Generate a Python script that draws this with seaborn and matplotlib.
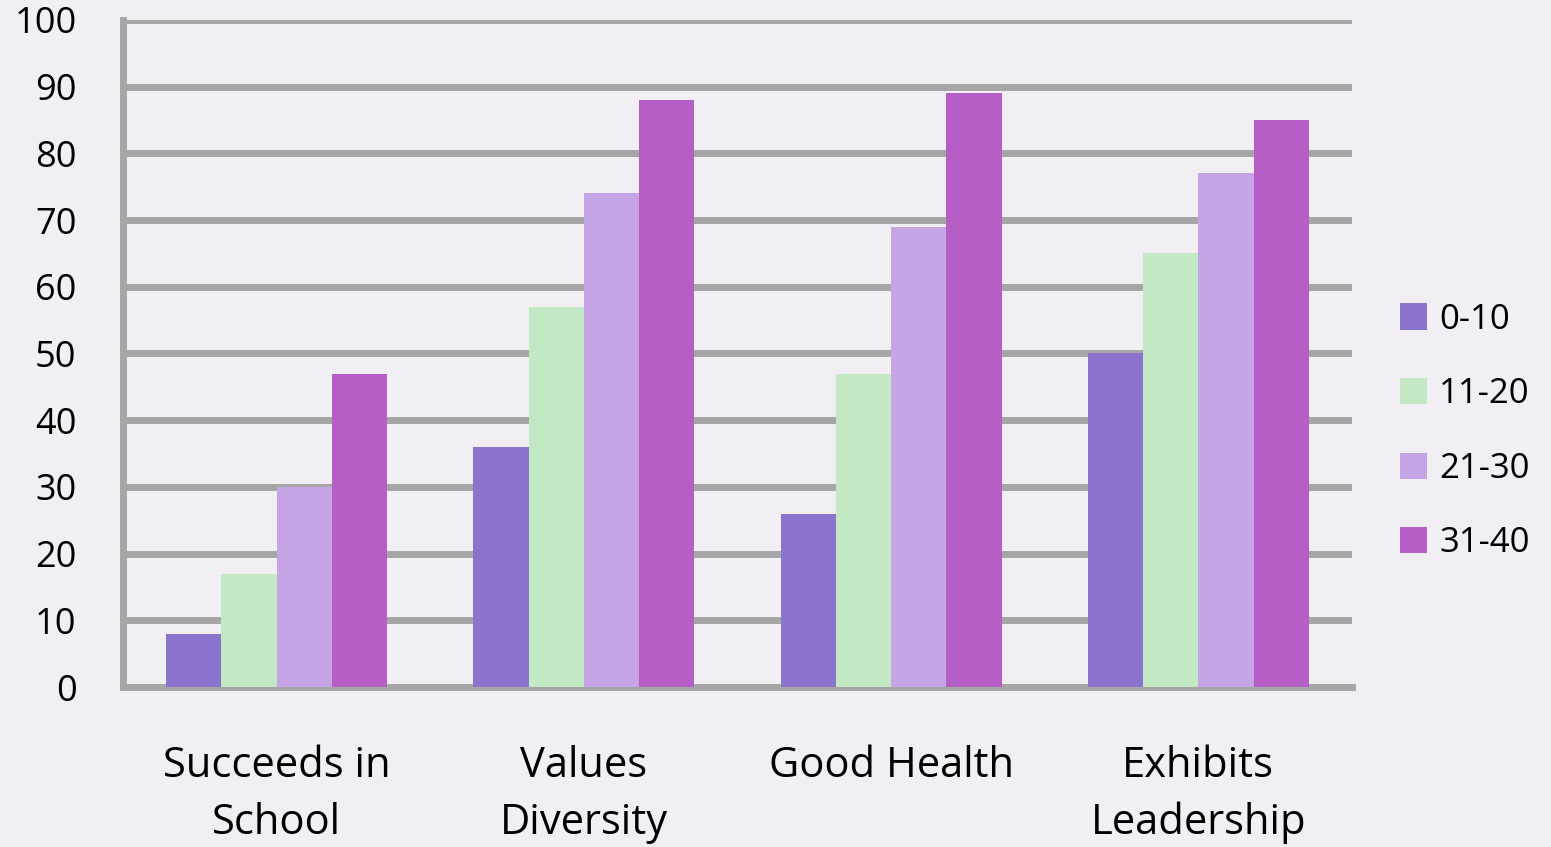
import matplotlib
matplotlib.use("Agg")
import matplotlib.pyplot as plt
import seaborn as sns
import pandas as pd

categories = ["Succeeds in\nSchool", "Values\nDiversity", "Good Health", "Exhibits\nLeadership"]
groups = ["0-10", "11-20", "21-30", "31-40"]
vals_0_10 = [8, 36, 26, 50]
vals_11_20 = [17, 57, 47, 65]
vals_21_30 = [30, 74, 69, 77]
vals_31_40 = [47, 88, 89, 85]
y_ticks = [0, 10, 20, 30, 40, 50, 60, 70, 80, 90, 100]

palette = ["#8b74cd", "#c3e9c4", "#c5a5e6", "#b45ec6"]
bg = "#f1eff4"
grid_c = "#a6a6a6"

rows = []
for g, vals in zip(groups, [vals_0_10, vals_11_20, vals_21_30, vals_31_40]):
    for c, v in zip(categories, vals):
        rows.append({"category": c, "group": g, "value": v})
df = pd.DataFrame(rows)

sns.set_style("white")
plt.rcParams["font.family"] = ["Open Sans", "DejaVu Sans"]
plt.rcParams["text.color"] = "black"

fig = plt.figure(figsize=(15.51, 8.47), dpi=100, facecolor=bg)
ax = fig.add_axes([123 / 1551, 160 / 847, (1352 - 123) / 1551, (687 - 20) / 847])
ax.set_facecolor(bg)

sns.barplot(data=df, x="category", y="value", hue="group", order=categories,
            hue_order=groups, palette=palette, width=0.72, saturation=1,
            linewidth=0, ax=ax, zorder=3)

ax.set_ylim(0, 100)
ax.set_xlim(-0.5, 3.5)
ax.set_yticks(y_ticks)
ax.yaxis.grid(True, color=grid_c, linewidth=5, zorder=0)
ax.set_axisbelow(True)
ax.tick_params(axis="y", length=9.5, width=5, color=grid_c, labelsize=26,
               pad=24, labelcolor="black")
ax.tick_params(axis="x", which="major", length=0, labelsize=30, pad=42,
               labelcolor="black")
ax.set_xticks([-0.5, 0.5, 1.5, 2.5, 3.5], minor=True)
ax.tick_params(axis="x", which="minor", length=9.5, width=5, color=grid_c)
for lab in ax.get_xticklabels():
    lab.set_linespacing(1.45)

for s in ["top", "right"]:
    ax.spines[s].set_visible(False)
for s in ["left", "bottom"]:
    ax.spines[s].set_color(grid_c)
    ax.spines[s].set_linewidth(5)
ax.set_xlabel("")
ax.set_ylabel("")

leg = ax.legend(loc="center left", bbox_to_anchor=(1.039, 0.383), frameon=False,
                fontsize=25, handlelength=0.78, handleheight=0.78, labelspacing=1.17,
                handletextpad=0.35, borderaxespad=0, borderpad=0)
for t in leg.get_texts():
    t.set_color("black")

fig.savefig("out.png", dpi=100, facecolor=bg)
